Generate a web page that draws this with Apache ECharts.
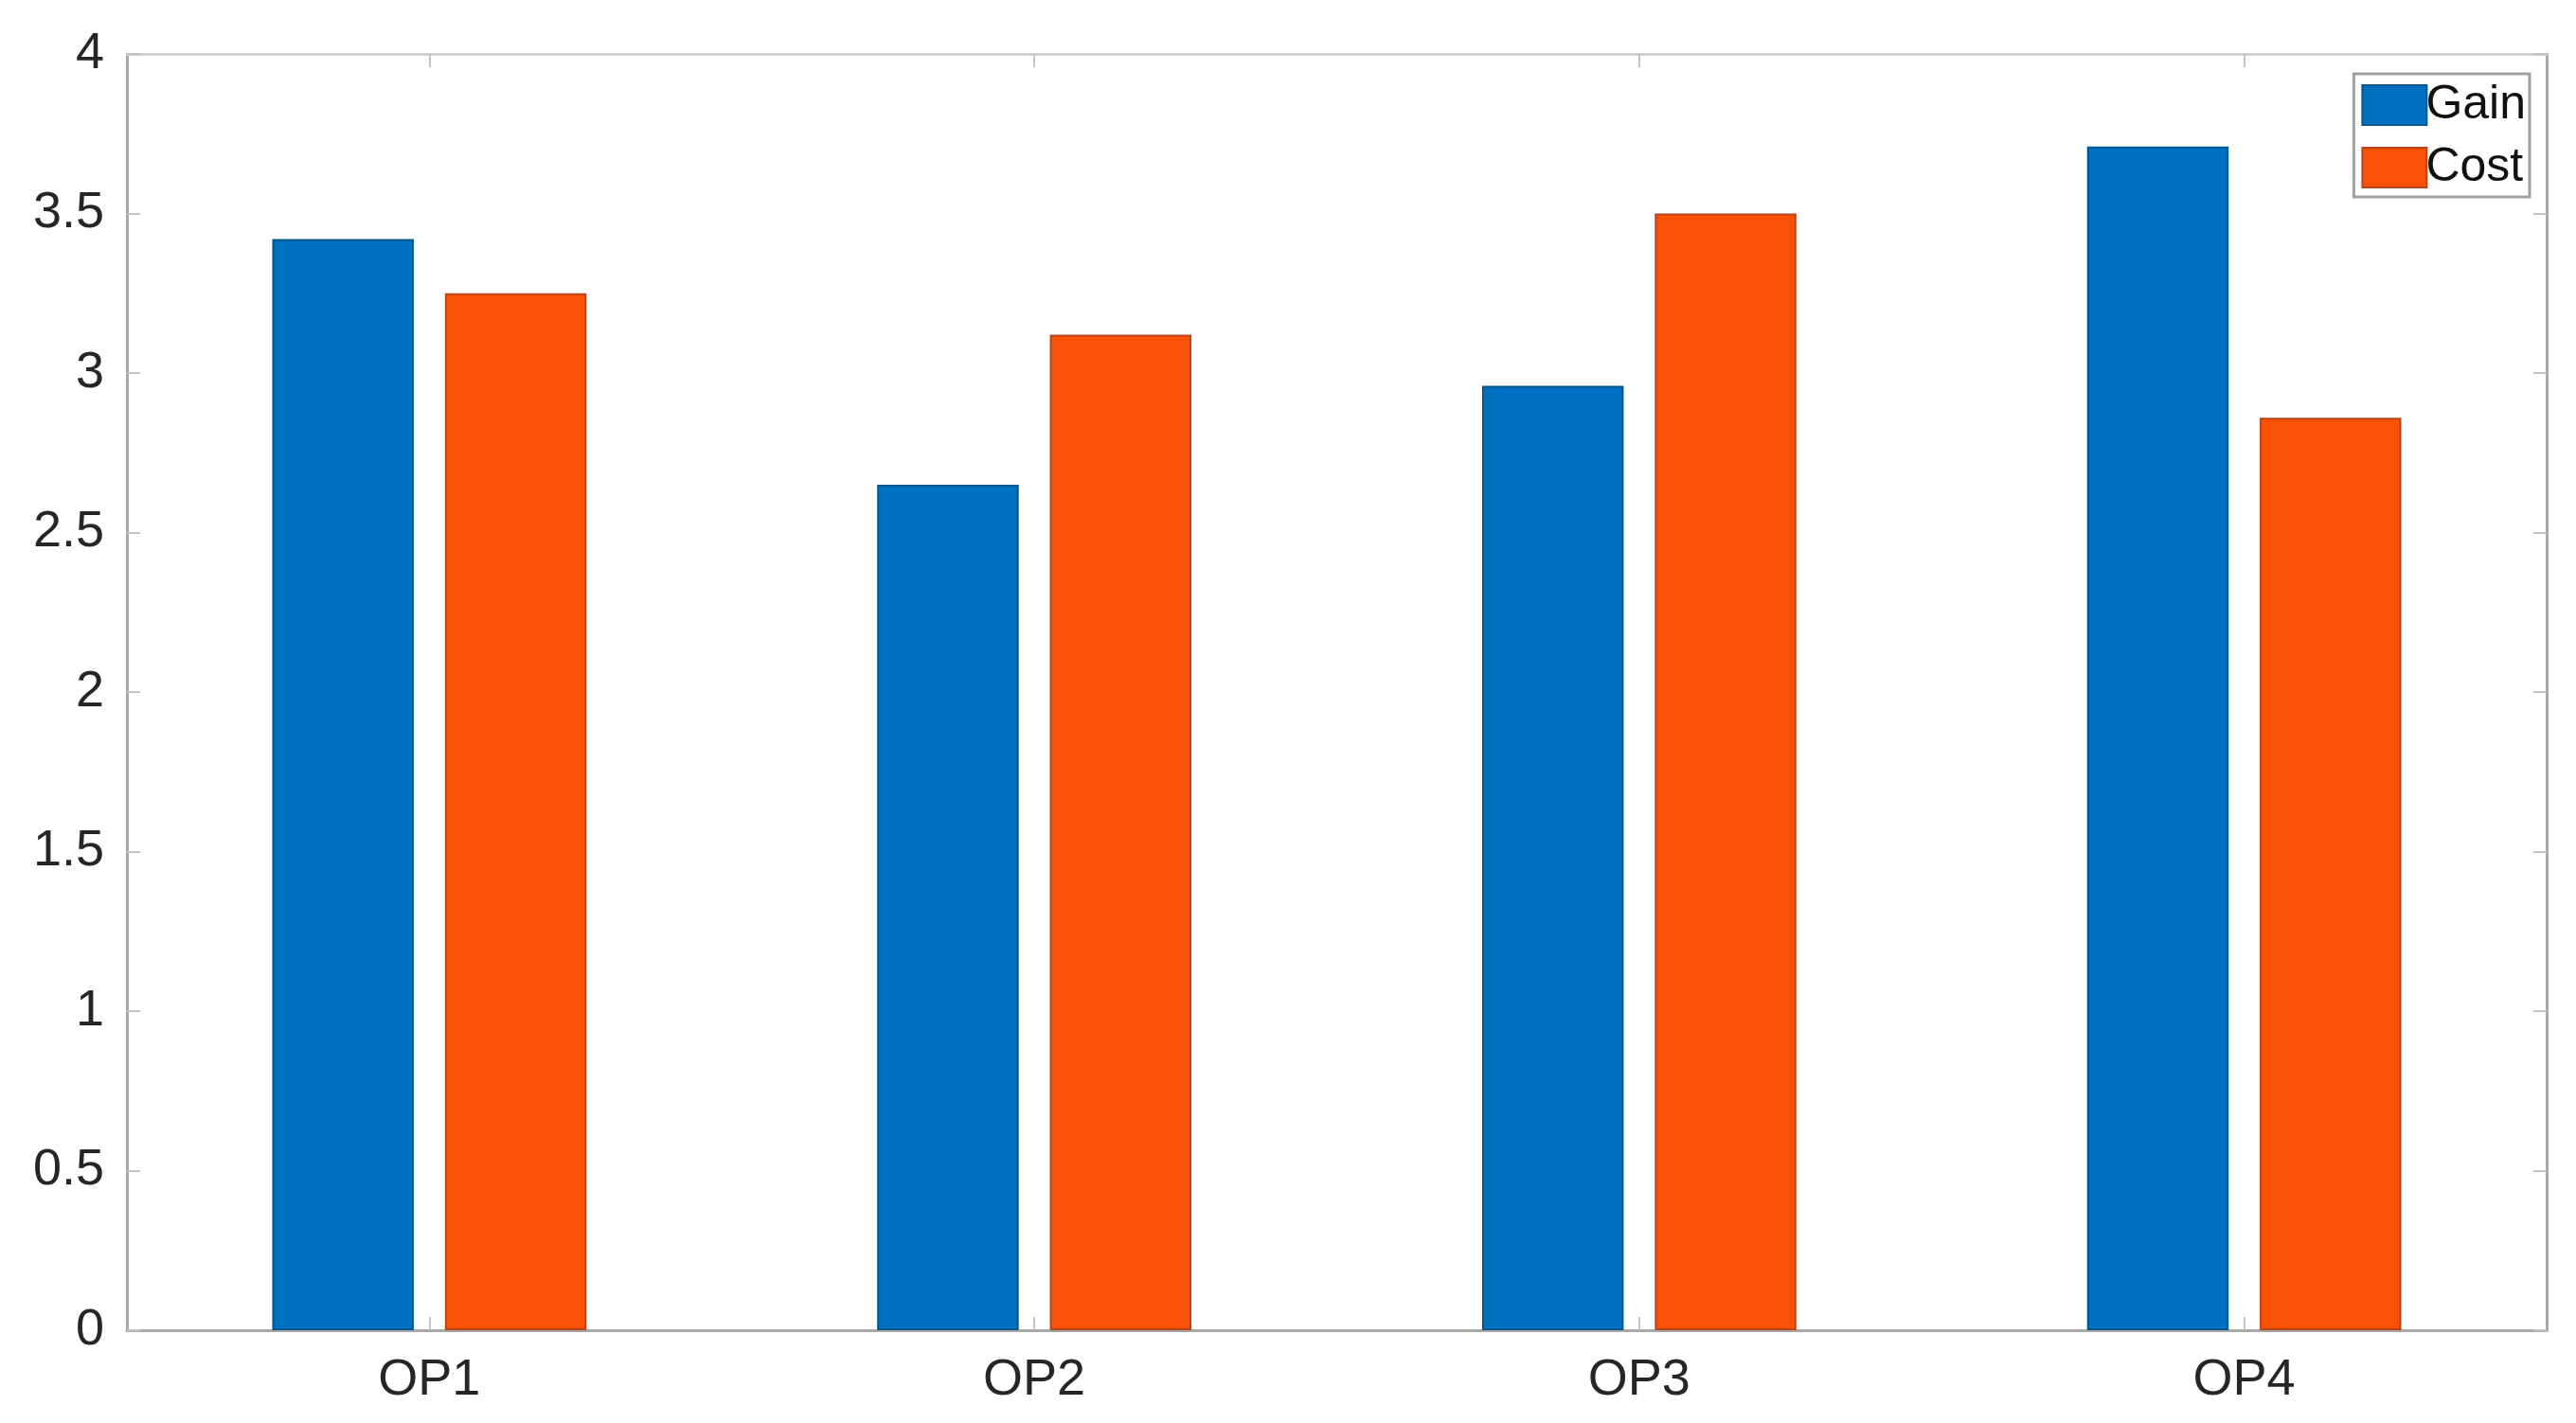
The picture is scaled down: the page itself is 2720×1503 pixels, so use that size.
<!DOCTYPE html>
<html>
<head>
<meta charset="utf-8">
<script src="https://cdn.jsdelivr.net/npm/echarts@6/dist/echarts.min.js"></script>
<style>
  html, body { margin: 0; padding: 0; background: #fff; }
  #chart { width: 2720px; height: 1503px; }
</style>
</head>
<body>
<div id="chart"></div>
<script>
// data
var categories = ['OP1', 'OP2', 'OP3', 'OP4'];
var gainValues = [3.42, 2.65, 2.96, 3.71];
var costValues = [3.25, 3.12, 3.50, 2.86];

var axisGray = '#a8a8a8';
var labelColor = '#262626';
var fontName = '"Liberation Sans", Arial, sans-serif';

var myChart = echarts.init(document.getElementById('chart'));

var option = {
    backgroundColor: '#ffffff',
    animation: false,
    grid: {
        left: 134,
        right: 31,
        top: 57,
        bottom: 98
    },
    legend: {
        orient: 'vertical',
        right: 49,
        top: 78,
        icon: 'rect',
        itemWidth: 68,
        itemHeight: 42,
        itemGap: 16,
        padding: [8, 4, 6, 8],
        borderColor: '#a0a0a0',
        borderWidth: 3,
        borderRadius: 0,
        backgroundColor: '#ffffff',
        textStyle: { fontSize: 50, color: '#111', fontFamily: fontName, padding: [0, 0, 0, -6] },
        data: ['Gain', 'Cost']
    },
    xAxis: [{
        type: 'category',
        data: categories,
        boundaryGap: true,
        axisLine: { show: true, onZero: false, lineStyle: { color: axisGray, width: 3 } },
        axisTick: { show: true, inside: true, alignWithLabel: true, length: 14, lineStyle: { color: '#c4c4c4', width: 2 } },
        axisLabel: { color: labelColor, fontSize: 54, fontFamily: fontName, margin: 26 },
        splitLine: { show: false }
    }, {
        type: 'category',
        data: categories,
        position: 'top',
        boundaryGap: true,
        axisLine: { show: true, onZero: false, lineStyle: { color: '#cfcfcf', width: 3 } },
        axisTick: { show: true, inside: true, alignWithLabel: true, length: 14, lineStyle: { color: '#c4c4c4', width: 2 } },
        axisLabel: { show: false },
        splitLine: { show: false }
    }],
    yAxis: [{
        type: 'value',
        min: 0,
        max: 4,
        interval: 0.5,
        axisLine: { show: true, onZero: false, lineStyle: { color: axisGray, width: 3 } },
        axisTick: { show: true, inside: true, length: 14, lineStyle: { color: '#c4c4c4', width: 2 } },
        axisLabel: { color: labelColor, fontSize: 54, fontFamily: fontName, margin: 24 },
        splitLine: { show: false }
    }, {
        type: 'value',
        min: 0,
        max: 4,
        interval: 0.5,
        position: 'right',
        axisLine: { show: true, onZero: false, lineStyle: { color: axisGray, width: 3 } },
        axisTick: { show: true, inside: true, length: 14, lineStyle: { color: '#c4c4c4', width: 2 } },
        axisLabel: { show: false },
        splitLine: { show: false }
    }],
    series: [{
        name: 'Gain',
        type: 'bar',
        data: gainValues,
        barWidth: '23.4%',
        barGap: '22%',
        itemStyle: { color: '#0070C0', borderColor: '#00578f', borderWidth: 2 }
    }, {
        name: 'Cost',
        type: 'bar',
        data: costValues,
        barWidth: '23.4%',
        barGap: '22%',
        itemStyle: { color: '#F85208', borderColor: '#b8451a', borderWidth: 2 }
    }]
};

myChart.setOption(option);
</script>
</body>
</html>
